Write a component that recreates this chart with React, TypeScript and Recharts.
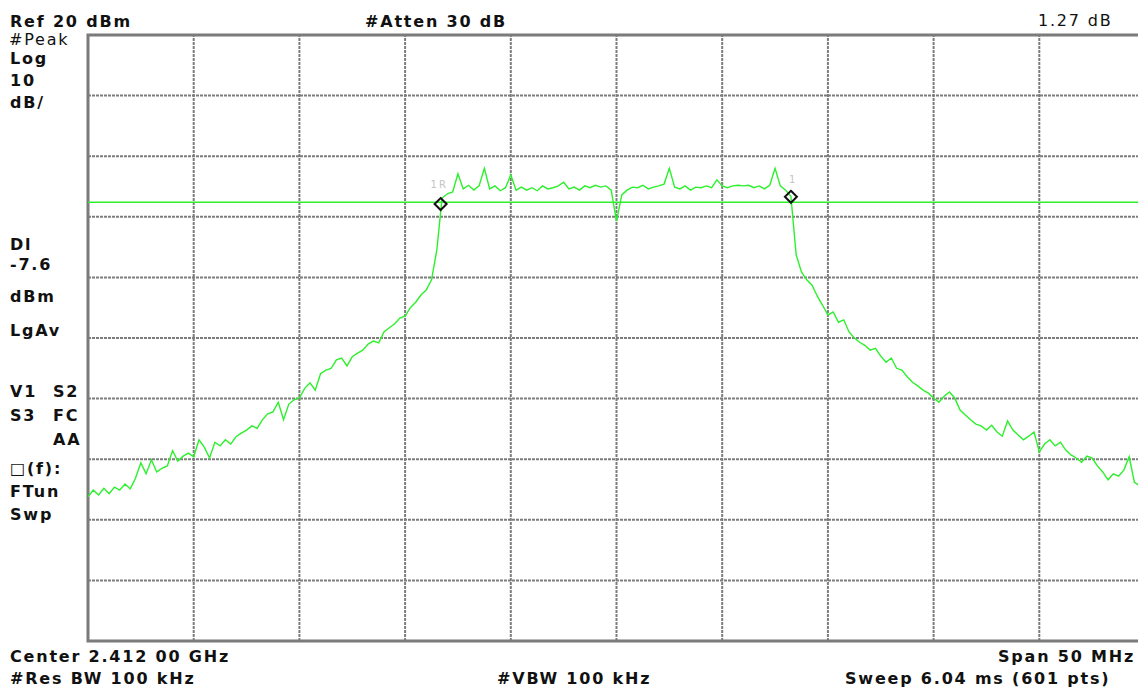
import {
  Line,
  LineChart,
  ReferenceArea,
  ReferenceDot,
  ReferenceLine,
  XAxis,
  YAxis,
} from "recharts";

// sweep: offset from 2.412 GHz centre, 0.25 MHz per sample, -25..+25 MHz
const START_MHZ = -25;
const STEP_MHZ = 0.25;

// trace level in dBm
const levels = [
  -56.2, -55.1, -55.9, -54.8, -55.7, -54.6, -55.1, -54.1, -54.9, -53.1,
  -50.6, -52.4, -50.1, -52.1, -51.5, -51.1, -48.6, -50.3, -49.5, -49.0,
  -49.6, -46.8, -48.0, -49.8, -47.2, -47.8, -46.8, -47.5, -46.3, -45.7,
  -45.2, -44.5, -44.9, -43.5, -42.5, -42.2, -40.6, -43.5, -40.9, -40.2,
  -39.9, -38.3, -37.4, -38.6, -35.9, -35.3, -35.0, -33.6, -33.3, -34.6,
  -33.1, -32.5, -32.0, -31.0, -30.5, -30.8, -29.0, -28.3, -27.7, -26.7,
  -26.4, -25.0, -24.1, -22.9, -22.1, -20.4, -15.5, -6.9, -6.2, -5.9,
  -2.9, -5.4, -4.8, -5.6, -4.9, -2.0, -5.4, -4.9, -5.7, -5.2,
  -3.1, -5.6, -5.1, -5.6, -5.2, -5.7, -4.9, -5.4, -5.2, -4.9,
  -4.3, -5.4, -5.1, -5.6, -4.9, -5.2, -4.8, -5.1, -4.9, -5.6,
  -10.7, -6.4, -5.6, -5.1, -5.2, -4.8, -5.4, -5.1, -4.9, -4.6,
  -2.0, -5.1, -5.4, -4.9, -5.6, -5.1, -5.2, -4.9, -5.2, -3.9,
  -4.9, -5.2, -4.9, -4.8, -4.9, -4.8, -5.2, -4.9, -5.4, -4.8,
  -2.0, -4.9, -5.6, -6.6, -16.3, -19.1, -20.4, -21.3, -23.1, -24.6,
  -26.2, -25.7, -27.4, -27.0, -29.0, -30.0, -30.7, -31.2, -32.0, -31.7,
  -33.0, -34.0, -33.3, -35.0, -35.3, -36.4, -37.3, -37.9, -38.6, -39.1,
  -39.9, -40.6, -39.6, -38.9, -39.9, -41.9, -42.7, -43.5, -44.2, -44.5,
  -45.2, -44.4, -45.5, -46.2, -43.7, -45.2, -46.0, -46.8, -46.2, -45.5,
  -48.8, -47.5, -46.8, -47.8, -47.2, -48.5, -49.3, -49.8, -50.5, -49.5,
  -49.8, -51.1, -52.1, -53.4, -52.4, -52.8, -51.8, -49.6, -53.8, -54.4,
  -54.8,
];

const xTicks = [-25, -20, -15, -10, -5, 0, 5, 10, 15, 20, 25];
const yTicks = [-80, -70, -60, -50, -40, -30, -20, -10, 0, 10, 20];

const displayLine = -7.6;

const markerNames = ["1R", "1"];
const markerFreqs = [-8.32, 8.25];
const markerLevels = [-7.9, -6.7];

const data = levels.map((level, i) => ({ offset: START_MHZ + i * STEP_MHZ, level }));

const TRACE = "#2cf02c";
const GRID = "#7c7c7c";

function Diamond(props: any) {
  const { cx, cy, name } = props;
  const r = 6;
  return (
    <g>
      <path
        d={`M${cx} ${cy - r} L${cx + r} ${cy} L${cx} ${cy + r} L${cx - r} ${cy} Z`}
        fill="none"
        stroke="#111"
        strokeWidth={2}
      />
      <text
        x={name === "1R" ? cx - 10 : cx - 2}
        y={name === "1R" ? cy - 16 : cy - 14}
        fontSize={10}
        fill="#c4c4c4"
        fontFamily="DejaVu Sans"
        letterSpacing={2}
      >
        {name}
      </text>
    </g>
  );
}

const bold = { fontFamily: "DejaVu Sans", fontWeight: 700, fontSize: 16, letterSpacing: 1.8, fill: "#111" };
const plain = { fontFamily: "DejaVu Sans", fontWeight: 400, fontSize: 16, letterSpacing: 1.8, fill: "#111" };

export default function App() {
  return (
    <div
      style={{
        position: "fixed",
        left: 0,
        top: 0,
        width: 1138,
        height: 699,
        overflow: "hidden",
        background: "#fff",
      }}
    >
      <LineChart width={1145} height={699} data={data} margin={{ top: 35, right: 0, left: 88, bottom: 58 }}>
        <XAxis
          type="number"
          dataKey="offset"
          domain={[-25, 25]}
          ticks={xTicks}
          tick={false}
          axisLine={false}
          tickLine={false}
          height={0}
        />
        <YAxis
          type="number"
          domain={[-80, 20]}
          ticks={yTicks}
          tick={false}
          axisLine={false}
          tickLine={false}
          width={0}
        />
        {xTicks.map((t) => (
          <ReferenceLine key={`x${t}`} x={t} stroke={GRID} strokeWidth={2} strokeDasharray="3 1" />
        ))}
        {yTicks.map((t) => (
          <ReferenceLine key={`y${t}`} y={t} stroke={GRID} strokeWidth={2} strokeDasharray="3 1" />
        ))}
        <ReferenceArea
          x1={-25}
          x2={25}
          y1={-80}
          y2={20}
          fill="#ffffff"
          fillOpacity={0}
          stroke="#777777"
          strokeWidth={3}
        />
        <ReferenceLine y={displayLine} stroke={TRACE} strokeWidth={1.5} />
        <Line
          type="linear"
          dataKey="level"
          stroke={TRACE}
          strokeWidth={1.4}
          dot={false}
          isAnimationActive={false}
        />
        {markerNames.map((name, i) => (
          <ReferenceDot
            key={name}
            x={markerFreqs[i]}
            y={markerLevels[i]}
            r={6}
            shape={(p: any) => <Diamond {...p} name={name} />}
          />
        ))}
      </LineChart>

      <svg
        width={1138}
        height={699}
        style={{ position: "absolute", left: 0, top: 0, pointerEvents: "none" }}
      >
        <text x={10} y={27} {...bold}>Ref 20 dBm</text>
        <text x={365} y={27} {...bold}>#Atten 30 dB</text>
        <text x={1038} y={26} {...plain}>1.27 dB</text>

        <text x={9} y={45} {...plain}>#Peak</text>
        <text x={10} y={64} {...bold}>Log</text>
        <text x={10} y={86} {...bold}>10</text>
        <text x={10} y={108} {...bold}>dB/</text>

        <text x={10} y={250} {...bold}>Dl</text>
        <text x={10} y={270} {...bold}>-7.6</text>
        <text x={10} y={302} {...bold}>dBm</text>
        <text x={10} y={336} {...bold}>LgAv</text>

        <text x={10} y={397} {...bold}>V1</text>
        <text x={53} y={397} {...bold}>S2</text>
        <text x={10} y={421} {...bold}>S3</text>
        <text x={53} y={421} {...bold}>FC</text>
        <text x={53} y={445} {...bold}>AA</text>
        <text x={10} y={474} {...bold}>□(f):</text>
        <text x={10} y={497} {...bold}>FTun</text>
        <text x={10} y={520} {...bold}>Swp</text>

        <text x={10} y={662} {...bold}>Center 2.412 00 GHz</text>
        <text x={1135} y={662} textAnchor="end" {...bold}>Span 50 MHz</text>
        <text x={10} y={684} {...bold}>#Res BW 100 kHz</text>
        <text x={497} y={684} {...bold}>#VBW 100 kHz</text>
        <text x={845} y={684} {...bold}>Sweep 6.04 ms (601 pts)</text>
      </svg>
    </div>
  );
}
